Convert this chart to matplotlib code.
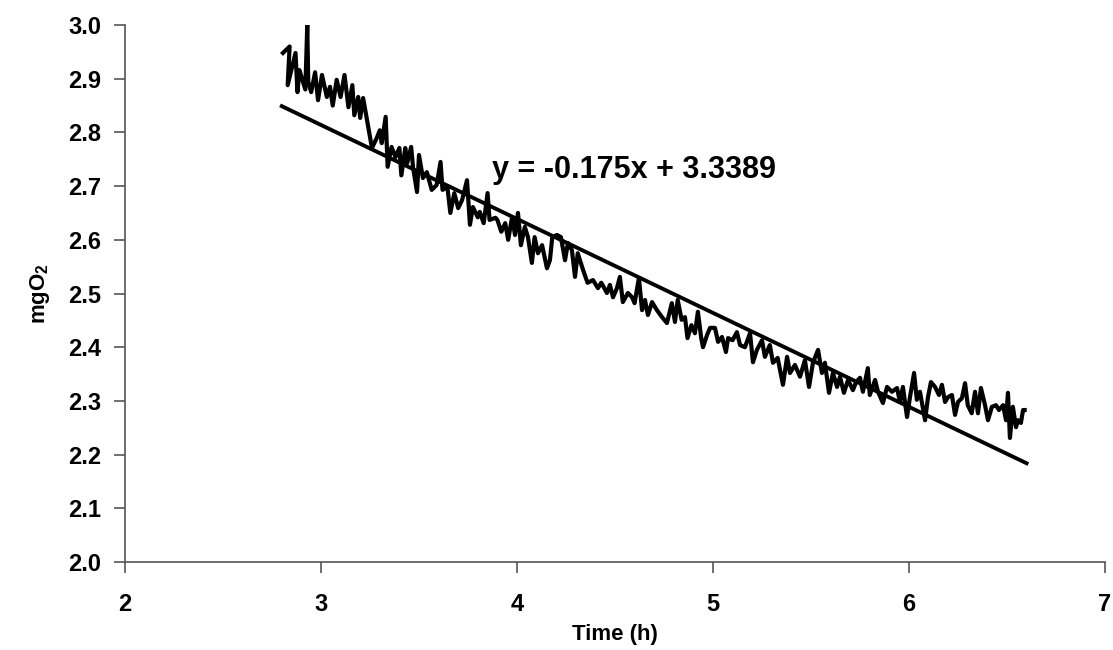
import matplotlib
matplotlib.use("Agg")
import matplotlib.pyplot as plt

plt.rcParams['font.family'] = ['Liberation Sans', 'DejaVu Sans']
plt.rcParams['mathtext.fontset'] = 'custom'
plt.rcParams['mathtext.rm'] = 'Liberation Sans:bold'
plt.rcParams['mathtext.it'] = 'Liberation Sans:bold'
plt.rcParams['mathtext.bf'] = 'Liberation Sans:bold'

time_h = [
    2.806, 2.84, 2.83, 2.87, 2.88, 2.89, 2.92, 2.93, 2.935, 2.95, 2.97, 2.985,
    3.005, 3.03, 3.046, 3.06, 3.08, 3.10, 3.12, 3.14, 3.16, 3.17, 3.19, 3.20,
    3.215, 3.235, 3.26, 3.285, 3.30, 3.31, 3.33, 3.34, 3.36, 3.38, 3.40, 3.41,
    3.43, 3.44, 3.46, 3.47, 3.49, 3.50, 3.52, 3.54, 3.565, 3.59, 3.61, 3.62,
    3.645, 3.66, 3.68, 3.70, 3.72, 3.745, 3.76, 3.775, 3.80, 3.81, 3.83, 3.85,
    3.86, 3.89, 3.90, 3.92, 3.94, 3.955, 3.975, 3.99, 4.005, 4.02, 4.04, 4.056,
    4.076, 4.09, 4.107, 4.128, 4.153, 4.168, 4.18, 4.204, 4.224, 4.245, 4.26,
    4.28, 4.296, 4.31, 4.337, 4.36, 4.388, 4.413, 4.43, 4.459, 4.474, 4.49,
    4.51, 4.525, 4.54, 4.566, 4.587, 4.60, 4.622, 4.638, 4.653, 4.668, 4.689,
    4.714, 4.74, 4.765, 4.79, 4.806, 4.82, 4.84, 4.857, 4.87, 4.89, 4.908,
    4.923, 4.94, 4.949, 4.97, 4.985, 5.01, 5.026, 5.046, 5.066, 5.077, 5.10,
    5.122, 5.138, 5.163, 5.189, 5.204, 5.224, 5.25, 5.265, 5.29, 5.306, 5.33,
    5.357, 5.378, 5.393, 5.418, 5.444, 5.469, 5.49, 5.51, 5.536, 5.556, 5.571,
    5.592, 5.612, 5.633, 5.648, 5.668, 5.689, 5.714, 5.73, 5.75, 5.765, 5.79,
    5.80, 5.827, 5.842, 5.867, 5.888, 5.913, 5.939, 5.954, 5.969, 5.99, 6.005,
    6.026, 6.04, 6.056, 6.082, 6.097, 6.112, 6.133, 6.153, 6.168, 6.184, 6.199,
    6.219, 6.235, 6.25, 6.27, 6.286, 6.30, 6.32, 6.337, 6.352, 6.367, 6.388,
    6.403, 6.423, 6.444, 6.459, 6.48, 6.495, 6.505, 6.515, 6.53, 6.546, 6.556,
    6.571, 6.582, 6.59,
]
mg_o2 = [
    2.948, 2.96, 2.888, 2.948, 2.875, 2.916, 2.88, 3.0, 2.894, 2.875, 2.912, 2.86,
    2.907, 2.866, 2.885, 2.85, 2.898, 2.866, 2.907, 2.847, 2.888, 2.832, 2.866, 2.827,
    2.864, 2.823, 2.771, 2.79, 2.804, 2.78, 2.829, 2.736, 2.773, 2.754, 2.771, 2.72,
    2.771, 2.743, 2.773, 2.734, 2.689, 2.758, 2.715, 2.726, 2.693, 2.702, 2.745, 2.693,
    2.698, 2.65, 2.687, 2.659, 2.674, 2.711, 2.628, 2.661, 2.642, 2.652, 2.631, 2.687,
    2.637, 2.641, 2.637, 2.615, 2.631, 2.60, 2.642, 2.609, 2.65, 2.59, 2.624, 2.605,
    2.557, 2.605, 2.575, 2.59, 2.547, 2.562, 2.605, 2.609, 2.605, 2.562, 2.594,
    2.581, 2.531, 2.575, 2.544, 2.52, 2.525, 2.51, 2.52, 2.501, 2.516, 2.493,
    2.51, 2.531, 2.484, 2.501, 2.493, 2.482, 2.529, 2.469, 2.488, 2.46, 2.484,
    2.469, 2.456, 2.445, 2.482, 2.447, 2.488, 2.451, 2.456, 2.417, 2.441, 2.426,
    2.466, 2.417, 2.40, 2.423, 2.436, 2.436, 2.41, 2.419, 2.391, 2.417, 2.413,
    2.428, 2.404, 2.40, 2.426, 2.372, 2.395, 2.413, 2.382, 2.404, 2.371, 2.38,
    2.33, 2.382, 2.352, 2.367, 2.345, 2.376, 2.326, 2.371, 2.395, 2.352, 2.371,
    2.315, 2.352, 2.326, 2.345, 2.315, 2.339, 2.32, 2.335, 2.343, 2.317, 2.361,
    2.311, 2.339, 2.317, 2.296, 2.326, 2.317, 2.324, 2.298, 2.326, 2.27, 2.307,
    2.352, 2.302, 2.317, 2.264, 2.307, 2.335, 2.326, 2.311, 2.33, 2.298, 2.307,
    2.311, 2.274, 2.298, 2.305, 2.333, 2.292, 2.277, 2.317, 2.277, 2.324, 2.292,
    2.264, 2.289, 2.292, 2.283, 2.292, 2.264, 2.315, 2.231, 2.289, 2.251, 2.264,
    2.259, 2.283, 2.283,
]

# linear fit reported on the chart
slope = -0.175
intercept = 3.3389
fit_x = [2.8, 6.6]
fit_y = [slope * x + intercept for x in fit_x]

fig = plt.figure(figsize=(11.13, 6.5), dpi=100)
ax = fig.add_axes([0.1123, 0.1354, 0.8805, 0.8261])

ax.plot(time_h, mg_o2, color='black', linewidth=3.0)
ax.plot(fit_x, fit_y, color='black', linewidth=2.8)

ax.text(3.87, 2.73, "y = -0.175x + 3.3389", fontsize=22, fontweight='bold',
        va='center', ha='left')

ax.set_xlim(2, 7)
ax.set_ylim(2.0, 3.0)
ax.set_xticks([2, 3, 4, 5, 6, 7])
ax.set_yticks([2.0, 2.1, 2.2, 2.3, 2.4, 2.5, 2.6, 2.7, 2.8, 2.9, 3.0])
ax.set_yticklabels(["%.1f" % v for v in ax.get_yticks()])

for lab in ax.get_xticklabels() + ax.get_yticklabels():
    lab.set_fontweight('bold')
    lab.set_fontsize(17)
ax.tick_params(axis='both', direction='out', length=8, width=1.2, color='#555555')
ax.tick_params(axis='x', pad=14)
ax.tick_params(axis='y', pad=9)

ax.set_xlabel("Time (h)", fontsize=16, fontweight='bold', labelpad=6)
ax.set_ylabel("mgO$_2$", fontsize=16, fontweight='bold', labelpad=12)

ax.spines['top'].set_visible(False)
ax.spines['right'].set_visible(False)
ax.spines['left'].set_color('#555555')
ax.spines['bottom'].set_color('#555555')
ax.spines['left'].set_linewidth(1.2)
ax.spines['bottom'].set_linewidth(1.2)

fig.savefig("out.png", dpi=100)
